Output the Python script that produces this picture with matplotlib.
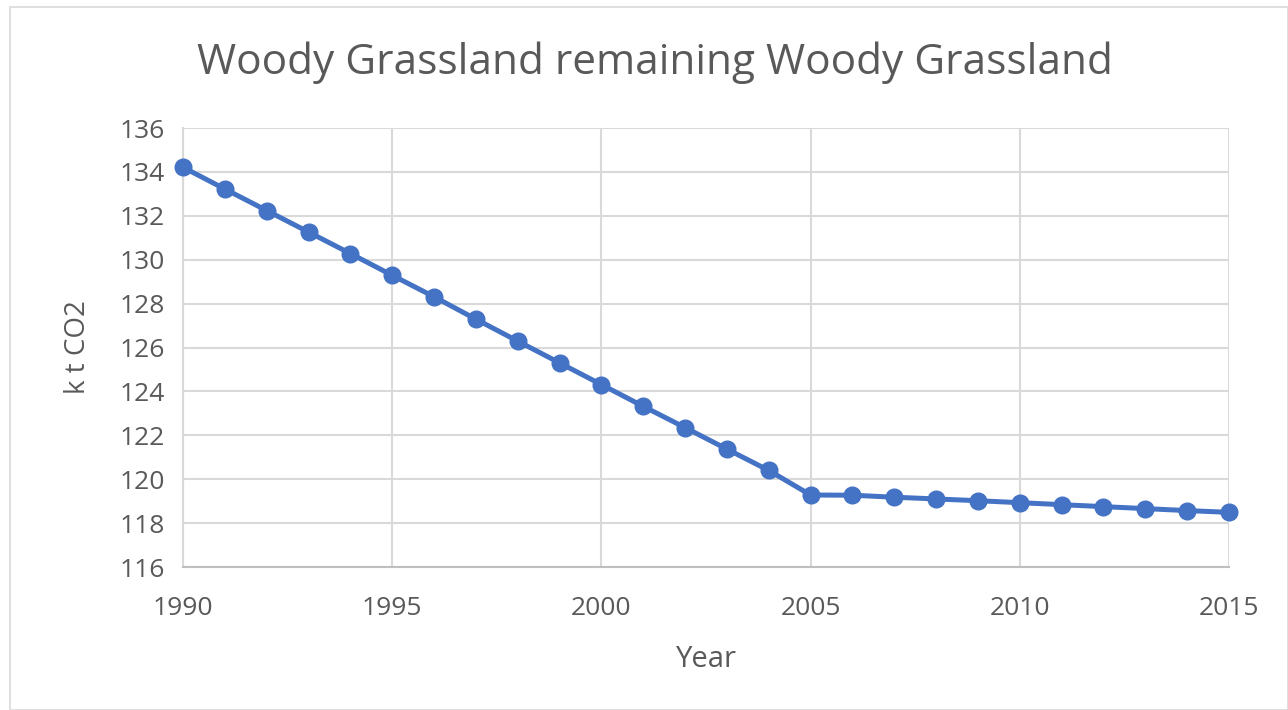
import matplotlib
matplotlib.use("Agg")
import matplotlib.pyplot as plt
from matplotlib.patches import Rectangle

years = list(range(1990, 2016))
values = [134.21, 133.22, 132.24, 131.26, 130.28, 129.29, 128.31, 127.29, 126.29, 125.30,
          124.31, 123.32, 122.35, 121.37, 120.40, 119.28, 119.27, 119.18, 119.10, 119.02,
          118.93, 118.84, 118.75, 118.66, 118.57, 118.49]
title = "Woody Grassland remaining Woody Grassland"
xlabel = "Year"
ylabel = "k t CO2"
xticks = [1990, 1995, 2000, 2005, 2010, 2015]
yticks = list(range(116, 137, 2))

plt.rcParams['font.family'] = ['Open Sans', 'DejaVu Sans']
txt = '#595959'
W, H = 1288, 710
fig = plt.figure(figsize=(W / 100, H / 100), dpi=100)
fig.patches.append(Rectangle((10 / W, 0), 1 - 10 / W, 1 - 7 / H, transform=fig.transFigure,
                             fill=False, edgecolor='#D9D9D9', linewidth=1.2))
ax = fig.add_axes([183 / W, 1 - 567 / H, (1229 - 183) / W, (567 - 128) / H])
ax.plot(years, values, color='#4472C4', linewidth=3.6, marker='o', markersize=12,
        solid_capstyle='round', zorder=3, clip_on=False)
ax.set_xlim(1990, 2015)
ax.set_ylim(116, 136)
ax.set_xticks(xticks)
ax.set_yticks(yticks)
ax.grid(True, color='#D9D9D9', linewidth=1.5)
ax.set_axisbelow(True)
for s in ['top', 'right']:
    ax.spines[s].set_visible(False)
ax.spines['left'].set_color('#D9D9D9')
ax.spines['left'].set_linewidth(1.5)
ax.spines['bottom'].set_color('#BFBFBF')
ax.spines['bottom'].set_linewidth(1.5)
ax.tick_params(length=0, labelsize=19, labelcolor=txt)
ax.tick_params(axis='x', pad=21)
ax.tick_params(axis='y', pad=13)
ax.set_xlabel(xlabel, fontsize=21, color=txt, labelpad=17)
ax.set_ylabel(ylabel, fontsize=20, color=txt, labelpad=20)
fig.text(655 / W, 1 - 63 / H, title, fontsize=30.5, color=txt, ha='center', va='center')
fig.savefig('out.png', dpi=100, facecolor='white')
